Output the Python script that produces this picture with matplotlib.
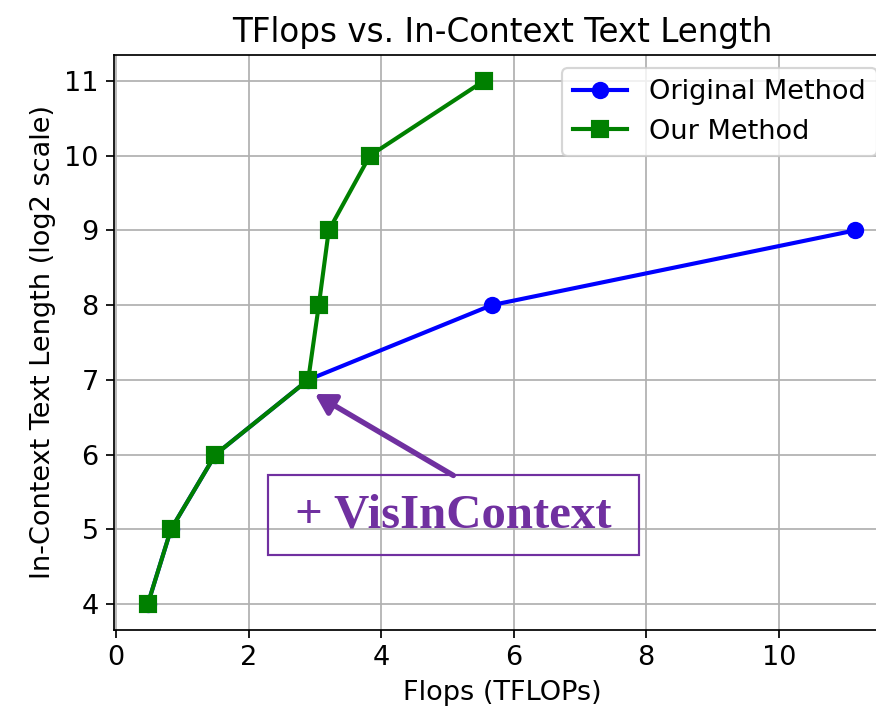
import matplotlib
matplotlib.use("Agg")
import matplotlib.pyplot as plt
from matplotlib.patches import Rectangle

# Data
orig_flops = [0.48, 0.83, 1.5, 2.9, 5.67, 11.15]
orig_len = [4, 5, 6, 7, 8, 9]
ours_flops = [0.48, 0.83, 1.5, 2.9, 3.06, 3.21, 3.83, 5.55]
ours_len = [4, 5, 6, 7, 8, 9, 10, 11]
x_ticks = [0, 2, 4, 6, 8, 10]
y_ticks = [4, 5, 6, 7, 8, 9, 10, 11]

plt.rcParams['font.size'] = 12.5
plt.rcParams['axes.titlesize'] = 15
plt.rcParams['axes.labelsize'] = 12.5

DPI = 156
fig = plt.figure(figsize=(877 / DPI, 712 / DPI), dpi=DPI)
ax = fig.add_axes([0.130, 0.115, 0.885, 0.808])

ax.plot(orig_flops, orig_len, '-o', color='blue', label='Original Method',
        markersize=7, linewidth=1.9)
ax.plot(ours_flops, ours_len, '-s', color='green', label='Our Method',
        markersize=7, linewidth=1.9)

ax.set_xticks(x_ticks)
ax.set_yticks(y_ticks)
ax.set_xlim(-0.03, 11.68)
ax.set_ylim(3.65, 11.35)
ax.spines['right'].set_visible(False)
ax.grid(True)
ax.set_title('TFlops vs. In-Context Text Length', pad=6)
ax.set_xlabel('Flops (TFLOPs)')
ax.set_ylabel('In-Context Text Length (log2 scale)')
ax.legend(loc='upper right')

purple = '#7030A0'
ax.add_patch(Rectangle((2.30, 4.65), 7.89 - 2.30, 5.72 - 4.65, fill=False,
                       edgecolor=purple, linewidth=1.0, zorder=5))
ax.text(5.09, 5.18, '+ VisInContext', color=purple, fontsize=22.5, fontweight='bold',
        family='Liberation Serif', ha='center', va='center', zorder=6)
ax.annotate('', xy=(3.0, 6.81), xytext=(5.09, 5.72),
            arrowprops=dict(arrowstyle='-|>,head_length=0.6,head_width=0.35',
                            color=purple, lw=2.5, shrinkA=0, shrinkB=0), zorder=6)

fig.savefig('out.png', dpi=DPI)
